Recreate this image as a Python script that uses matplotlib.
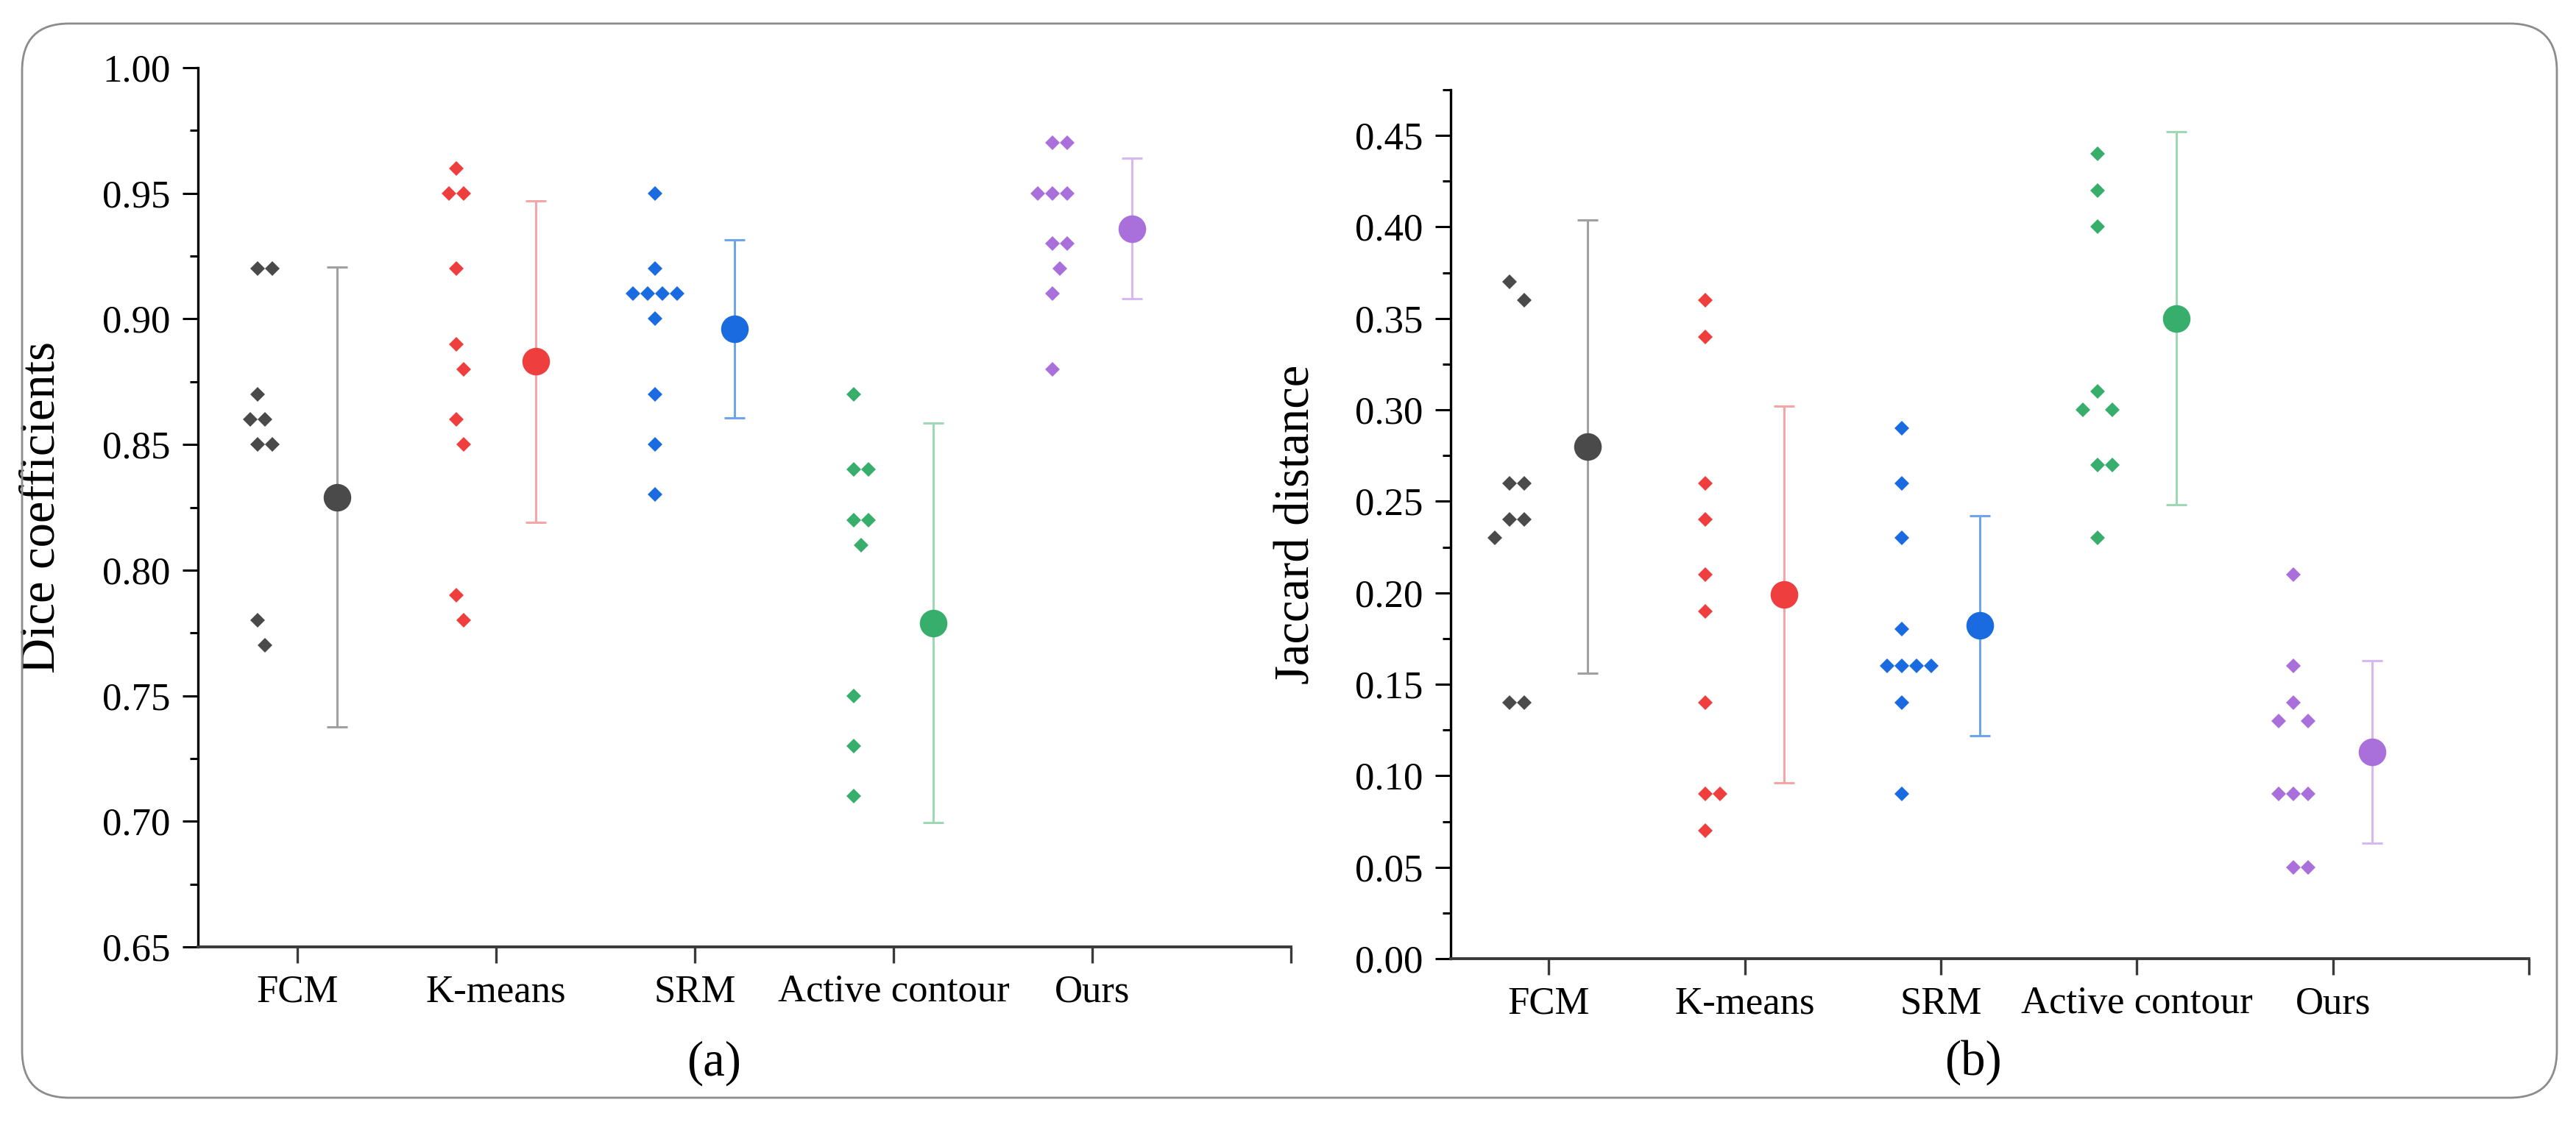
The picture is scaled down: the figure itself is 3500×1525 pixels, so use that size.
import numpy as np
import matplotlib.pyplot as plt
from matplotlib.patches import FancyBboxPatch
from matplotlib.ticker import MultipleLocator, FormatStrFormatter

plt.rcParams['font.family'] = ['Liberation Serif', 'DejaVu Serif']

methods = ['FCM', 'K-means', 'SRM', 'Active contour', 'Ours']

# Dice coefficients per image
dice_fcm = [0.92, 0.92, 0.87, 0.86, 0.86, 0.85, 0.85, 0.78, 0.77]
dice_kmeans = [0.96, 0.95, 0.95, 0.92, 0.89, 0.88, 0.86, 0.85, 0.79, 0.78]
dice_srm = [0.95, 0.92, 0.91, 0.91, 0.91, 0.91, 0.90, 0.87, 0.85, 0.83]
dice_active = [0.87, 0.84, 0.84, 0.82, 0.82, 0.81, 0.75, 0.73, 0.71]
dice_ours = [0.97, 0.97, 0.95, 0.95, 0.95, 0.93, 0.93, 0.92, 0.91, 0.88]
dice_mean = [0.829, 0.883, 0.896, 0.779, 0.936]
dice_sd = [0.0915, 0.064, 0.0355, 0.0795, 0.028]

# Jaccard distance per image
jac_fcm = [0.37, 0.36, 0.26, 0.26, 0.24, 0.24, 0.23, 0.14, 0.14]
jac_kmeans = [0.36, 0.34, 0.26, 0.24, 0.21, 0.19, 0.14, 0.09, 0.09, 0.07]
jac_srm = [0.29, 0.26, 0.23, 0.18, 0.16, 0.16, 0.16, 0.16, 0.14, 0.09]
jac_active = [0.44, 0.42, 0.40, 0.31, 0.30, 0.30, 0.27, 0.27, 0.23]
jac_ours = [0.21, 0.16, 0.14, 0.13, 0.13, 0.09, 0.09, 0.09, 0.05, 0.05]
jac_mean = [0.280, 0.199, 0.182, 0.350, 0.113]
jac_sd = [0.124, 0.103, 0.060, 0.102, 0.050]

colors = ['#4a4a4a', '#ef3e3e', '#1a6be0', '#38ae6c', '#a970dc']
bar_colors = ['#a0a0a0', '#f5a5a5', '#6ea4ec', '#9ed8b4', '#d8b8f0']


def swarm(ax, center, values, step=10, rx=20, ry=36):
    # simple beeswarm, done in pixel space
    px = ax.transData.transform([(center, v) for v in values])
    ys = px[:, 1]
    cands = [0] + [s * k * step for k in range(1, 30) for s in (1, -1)]
    placed = []
    offs = np.zeros(len(values))
    for i in np.argsort(-np.asarray(values), kind='stable'):
        for c in cands:
            if all(((c - qx) / rx) ** 2 + ((ys[i] - qy) / ry) ** 2 >= 1 for qx, qy in placed):
                break
        placed.append((c, ys[i]))
        offs[i] = c
    back = ax.transData.inverted().transform(np.column_stack([px[:, 0] + offs, ys]))
    return back[:, 0]


def panel(ax, groups, means, sds, ylim, ylabel):
    ax.set_xlim(0.5, 6)
    ax.set_ylim(*ylim)
    for sp in ['top', 'right']:
        ax.spines[sp].set_visible(False)
    ax.spines['left'].set_linewidth(2.4)
    ax.spines['left'].set_color('black')
    ax.spines['bottom'].set_linewidth(2.8)
    ax.spines['bottom'].set_color('#3a3a3a')

    for i, vals in enumerate(groups):
        pos = i + 1
        xs = swarm(ax, pos - 0.2, vals)
        ax.plot(xs, vals, 'D', ms=10, color=colors[i], mew=0, zorder=4)
        ax.errorbar(pos + 0.2, means[i], yerr=sds[i], fmt='none', ecolor=bar_colors[i],
                    elinewidth=2.2, capsize=10, capthick=2.2, zorder=2)
        ax.plot(pos + 0.2, means[i], 'o', ms=27, color=colors[i], mew=0, zorder=3)

    ax.set_xticks([1, 2, 3, 4, 5, 6])
    ax.set_xticklabels(methods + [''])
    ax.yaxis.set_major_locator(MultipleLocator(0.05))
    ax.yaxis.set_minor_locator(MultipleLocator(0.025))
    ax.yaxis.set_major_formatter(FormatStrFormatter('%.2f'))
    ax.tick_params(axis='y', which='major', length=15, width=2.2, pad=12,
                   labelsize=38, direction='out')
    ax.tick_params(axis='y', which='minor', length=8, width=2.2, direction='out')
    ax.tick_params(axis='x', which='major', length=16, width=2.4, pad=11,
                   labelsize=38, direction='out', color='#3a3a3a')
    ax.set_ylabel(ylabel, fontsize=48)
    ax.yaxis.set_label_coords(-0.122, 0.5)


fig = plt.figure(figsize=(35, 15.25), dpi=100)

frame = FancyBboxPatch((0.30, 0.33), 34.44, 14.60,
                       boxstyle='round,pad=0,rounding_size=0.64',
                       transform=fig.dpi_scale_trans, fill=False,
                       edgecolor='#8c8c8c', linewidth=2)
fig.add_artist(frame)

ax1 = fig.add_axes([269 / 3500, 1 - 1287 / 1525, (1754 - 269) / 3500, (1287 - 92) / 1525])
ax2 = fig.add_axes([1971 / 3500, 1 - 1303 / 1525, (3436 - 1971) / 3500, (1303 - 122) / 1525])

panel(ax1, [dice_fcm, dice_kmeans, dice_srm, dice_active, dice_ours],
      dice_mean, dice_sd, (0.65, 1.00), 'Dice coefficients')
panel(ax2, [jac_fcm, jac_kmeans, jac_srm, jac_active, jac_ours],
      jac_mean, jac_sd, (0.0, 0.475), 'Jaccard distance')

fig.text(970 / 3500, 1 - 1445 / 1525, '(a)', fontsize=48, ha='center', va='center')
fig.text(2681 / 3500, 1 - 1444 / 1525, '(b)', fontsize=48, ha='center', va='center')

fig.savefig('out.png', dpi=100)
